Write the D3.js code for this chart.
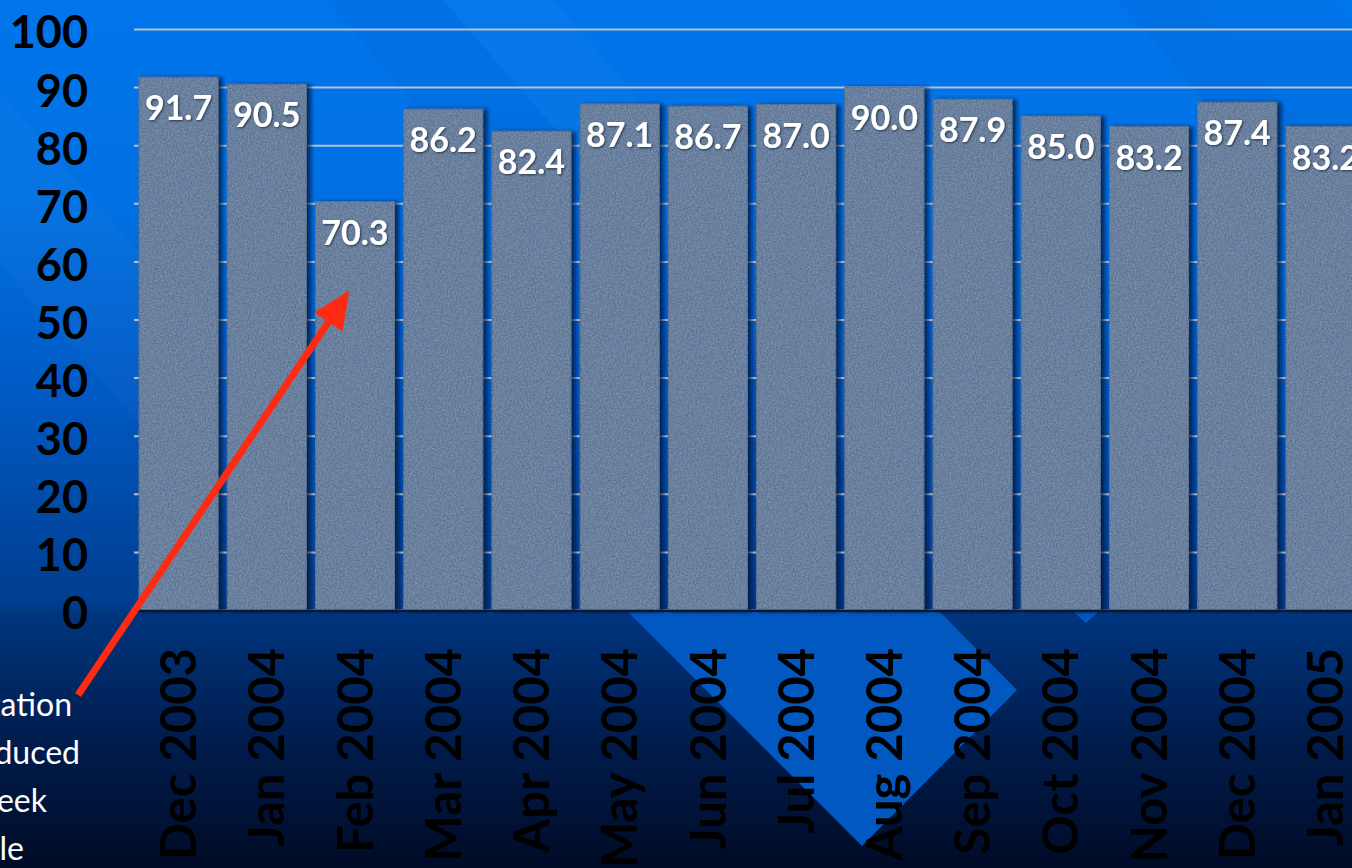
<!DOCTYPE html>
<html>
<head>
<meta charset="utf-8">
<script src="https://cdn.jsdelivr.net/npm/d3@7"></script>
<style>
  html, body { margin: 0; padding: 0; overflow: hidden; background: #00205a; }
  svg { display: block; }
</style>
</head>
<body>
<div class="chart"></div>
<script>
let width = 1352, height = 868;

// data
let months = ["Dec 2003", "Jan 2004", "Feb 2004", "Mar 2004", "Apr 2004", "May 2004", "Jun 2004",
              "Jul 2004", "Aug 2004", "Sep 2004", "Oct 2004", "Nov 2004", "Dec 2004", "Jan 2005"];
let values = [91.7, 90.5, 70.3, 86.2, 82.4, 87.1, 86.7, 87.0, 90.0, 87.9, 85.0, 83.2, 87.4, 83.2];
let yTicks = [0, 10, 20, 30, 40, 50, 60, 70, 80, 90, 100];
let noteLines = ["Implementation", "reduced", "week", "schedule"];

let margin = { top: 29, bottom: 258, left: 134, right: -18 };

let svg = d3.select(".chart").append("svg")
    .attr("width", width)
    .attr("height", height);

let defs = svg.append("defs");

let bg = defs.append("linearGradient").attr("id", "bg")
    .attr("x1", 0).attr("y1", 0).attr("x2", 0).attr("y2", 1);
[[0, "#0076ec"], [0.24, "#0070e2"], [0.45, "#005ac4"], [0.69, "#003e90"],
 [0.71, "#00357e"], [0.85, "#001d4e"], [1, "#000b26"]].forEach(s => {
    bg.append("stop").attr("offset", s[0]).attr("stop-color", s[1]);
});

// paper texture + shadow for the bars
let tex = defs.append("filter").attr("id", "tex")
    .attr("x", "-5%").attr("y", "-5%").attr("width", "115%").attr("height", "110%");
tex.append("feTurbulence").attr("type", "fractalNoise").attr("baseFrequency", 0.6)
    .attr("numOctaves", 2).attr("seed", 3).attr("result", "n");
tex.append("feColorMatrix").attr("in", "n").attr("type", "matrix")
    .attr("values", "0 0 0 0 0.62  0 0 0 0 0.7  0 0 0 0 0.8  0.4 0 0 0 -0.12")
    .attr("result", "nc");
tex.append("feComposite").attr("in", "nc").attr("in2", "SourceGraphic")
    .attr("operator", "in").attr("result", "t");
tex.append("feDropShadow").attr("in", "SourceGraphic").attr("dx", 4).attr("dy", 1)
    .attr("stdDeviation", 2).attr("flood-color", "#001535").attr("flood-opacity", 0.75)
    .attr("result", "sh");
let mrg = tex.append("feMerge");
mrg.append("feMergeNode").attr("in", "sh");
mrg.append("feMergeNode").attr("in", "t");

let glow = defs.append("filter").attr("id", "txt");
glow.append("feDropShadow").attr("dx", 1).attr("dy", 1).attr("stdDeviation", 1)
    .attr("flood-color", "#102030").attr("flood-opacity", 0.8);

// background
svg.append("rect").attr("width", width).attr("height", height).attr("fill", "url(#bg)");

// faint diagonal bands of the slide theme
let bands = [[-230, 150, 0.025], [325, 118, -0.03], [443, 110, 0.025], [1117, 76, -0.035], [1193, 137, -0.025]];
svg.append("g").selectAll("polygon").data(bands).join("polygon")
    .attr("points", d => {
        let k = 1.15, h = 612;
        return [[d[0], 0], [d[0] + d[1], 0], [d[0] + d[1] + h / k, h], [d[0] + h / k, h]].join(" ");
    })
    .attr("fill", d => d[2] > 0 ? "#ffffff" : "#000a30")
    .attr("fill-opacity", d => Math.abs(d[2]));

// lighter stripe below the axis
svg.append("polygon")
    .attr("points", "628,612 940,612 1017,690 862,846")
    .attr("fill", "#0058c0");
svg.append("polygon")
    .attr("points", "1074,612 1098,612 1086,623")
    .attr("fill", "#0058c0");

let x = d3.scaleBand()
    .domain(months)
    .range([margin.left, width - margin.right])
    .paddingInner(0.104)
    .paddingOuter(0.057);

let y = d3.scaleLinear()
    .domain([0, 100])
    .range([height - margin.bottom, margin.top]);

// gridlines
svg.append("g")
    .attr("transform", `translate(${margin.left},0)`)
    .call(d3.axisLeft(y).tickValues(yTicks).tickSize(-(width - margin.right - margin.left)).tickFormat(""))
    .call(g => g.select(".domain").remove())
    .call(g => g.selectAll("line").attr("stroke", "#b4c2d2").attr("stroke-width", 2));

// bars
svg.append("g").selectAll("rect").data(values).join("rect")
    .attr("x", (d, i) => x(months[i]))
    .attr("y", d => y(d))
    .attr("width", x.bandwidth())
    .attr("height", d => y(0) - y(d))
    .attr("fill", "#5c7596")
    .attr("stroke", "#4c6180")
    .attr("stroke-width", 1)
    .attr("filter", "url(#tex)");

// baseline
svg.append("line")
    .attr("x1", margin.left).attr("x2", width)
    .attr("y1", y(0) + 1).attr("y2", y(0) + 1)
    .attr("stroke", "#0b1a33").attr("stroke-width", 2.5);

// value labels
svg.append("g").selectAll("text").data(values).join("text")
    .attr("x", (d, i) => x(months[i]) + x.bandwidth() / 2)
    .attr("y", d => y(d) + 43)
    .attr("text-anchor", "middle")
    .attr("fill", "#ffffff")
    .attr("font-family", "Lato, 'Open Sans', sans-serif")
    .attr("font-weight", "bold")
    .attr("font-size", 34)
    .attr("filter", "url(#txt)")
    .text(d => d3.format(".1f")(d));

// y axis labels
svg.append("g")
    .attr("transform", `translate(${margin.left},0)`)
    .call(d3.axisLeft(y).tickValues(yTicks).tickSize(0).tickPadding(46))
    .call(g => g.select(".domain").remove())
    .call(g => g.selectAll("text")
        .attr("dy", "0.42em")
        .attr("fill", "#000000")
        .attr("font-family", "Lato, 'Open Sans', sans-serif")
        .attr("font-weight", "bold")
        .attr("font-size", 45));

// x axis labels
svg.append("g")
    .attr("transform", `translate(0,${y(0)})`)
    .call(d3.axisBottom(x).tickSize(0))
    .call(g => g.select(".domain").remove())
    .call(g => g.selectAll("text")
        .attr("transform", "rotate(-90)")
        .attr("x", -38)
        .attr("y", 0)
        .attr("dy", "0.36em")
        .attr("text-anchor", "end")
        .attr("fill", "#000000")
        .attr("font-family", "Lato, 'Open Sans', sans-serif")
        .attr("font-weight", "bold")
        .attr("font-size", 49));

// annotation arrow pointing at the February dip
let tipX = x("Feb 2004") + x.bandwidth() * 0.43, tipY = y(55);
let startX = 78, startY = 695;
let ang = Math.atan2(tipY - startY, tipX - startX);
let headLen = 38, headW = 17;
let bx = tipX - headLen * Math.cos(ang), by = tipY - headLen * Math.sin(ang);
svg.append("line")
    .attr("x1", startX).attr("y1", startY)
    .attr("x2", bx + 4 * Math.cos(ang)).attr("y2", by + 4 * Math.sin(ang))
    .attr("stroke", "#ff2a12").attr("stroke-width", 7);
svg.append("polygon")
    .attr("points", [
        [tipX, tipY],
        [bx + headW * Math.sin(ang), by - headW * Math.cos(ang)],
        [bx - headW * Math.sin(ang), by + headW * Math.cos(ang)]
    ].join(" "))
    .attr("fill", "#ff2a12");

// annotation text, cut off by the left edge of the slide
let noteEnds = [72, 80, 47, 24];
svg.append("g").selectAll("text").data(noteLines).join("text")
    .attr("x", (d, i) => noteEnds[i])
    .attr("y", (d, i) => 716 + i * 48)
    .attr("text-anchor", "end")
    .attr("fill", "#ffffff")
    .attr("font-family", "Lato, 'Open Sans', sans-serif")
    .attr("font-size", 32)
    .text(d => d);
</script>
</body>
</html>
